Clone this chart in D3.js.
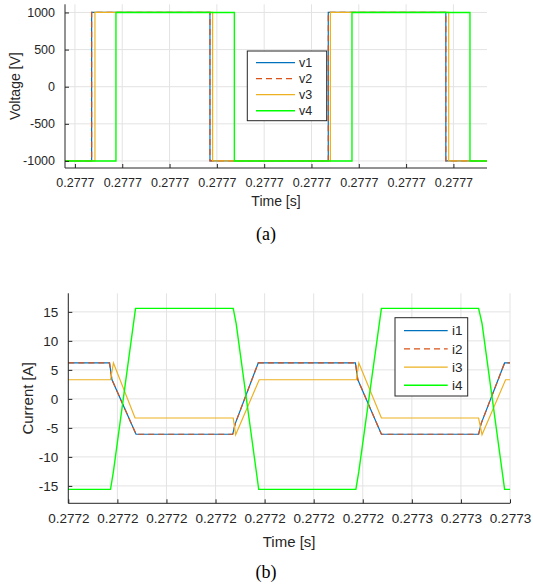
<!DOCTYPE html>
<html>
<head>
<meta charset="utf-8">
<script src="https://cdn.jsdelivr.net/npm/d3@7"></script>
<style>
  body { margin: 0; background: #fff; }
  text { font-family: "Liberation Sans", Arial, sans-serif; fill: #262626; }
</style>
</head>
<body>
<div id="canvas"></div>
<script>
// time is measured in tick intervals from the first labelled tick

// (a) voltages
const vTicks = [0, 1, 2, 3, 4, 5, 6, 7, 8];
const vTickLabels = ["0.2777", "0.2777", "0.2777", "0.2777", "0.2777", "0.2777", "0.2777", "0.2777", "0.2777"];
const vYTicks = [-1000, -500, 0, 500, 1000];
const v1T = [-0.21, 0.353, 0.353, 2.854, 2.854, 5.355, 5.355, 7.84, 7.84, 8.71];
const v1V = [-1000, -1000, 1000, 1000, -1000, -1000, 1000, 1000, -1000, -1000];
const v2T = [-0.21, 0.353, 0.353, 2.854, 2.854, 5.355, 5.355, 7.84, 7.84, 8.71];
const v2V = [-1000, -1000, 1000, 1000, -1000, -1000, 1000, 1000, -1000, -1000];
const v3T = [-0.21, 0.423, 0.423, 2.91, 2.91, 5.40, 5.40, 7.90, 7.90, 8.71];
const v3V = [-1000, -1000, 1000, 1000, -1000, -1000, 1000, 1000, -1000, -1000];
const v4T = [-0.21, 0.867, 0.867, 3.37, 3.37, 5.856, 5.856, 8.35, 8.35, 8.71];
const v4V = [-1000, -1000, 1000, 1000, -1000, -1000, 1000, 1000, -1000, -1000];

// (b) currents
const iTicks = [0, 1, 2, 3, 4, 5, 6, 7, 8, 9];
const iTickLabels = ["0.2772", "0.2772", "0.2772", "0.2772", "0.2772", "0.2772", "0.2772", "0.2773", "0.2773", "0.2773"];
const iYTicks = [-15, -10, -5, 0, 5, 10, 15];
const i1T = [0, 0.84, 0.89, 1.38, 3.35, 3.40, 3.87, 5.85, 5.90, 6.38, 8.36, 8.41, 8.89, 9];
const i1V = [6.2, 6.2, 3.3, -6.1, -6.1, -4.3, 6.2, 6.2, 3.3, -6.1, -6.1, -4.3, 6.2, 6.2];
const i2T = [0, 0.84, 0.89, 1.38, 3.35, 3.40, 3.87, 5.85, 5.90, 6.38, 8.36, 8.41, 8.89, 9];
const i2V = [6.2, 6.2, 3.3, -6.1, -6.1, -4.3, 6.2, 6.2, 3.3, -6.1, -6.1, -4.3, 6.2, 6.2];
const i3T = [0, 0.86, 0.92, 1.36, 3.36, 3.41, 3.89, 5.87, 5.92, 6.38, 8.36, 8.43, 8.91, 9];
const i3V = [3.3, 3.3, 6.2, -3.3, -3.3, -6.2, 3.3, 3.3, 6.2, -3.3, -3.3, -6.2, 3.3, 3.3];
const i4T = [0, 0.86, 0.92, 1.37, 3.36, 3.42, 3.88, 5.86, 5.92, 6.38, 8.36, 8.43, 8.89, 9];
const i4V = [-15.6, -15.6, -12.5, 15.6, 15.6, 13.0, -15.6, -15.6, -12.5, 15.6, 15.6, 13.0, -15.6, -15.6];

const colors = ["#0072BD", "#D95319", "#EDB120", "#00FF00"];

const svg = d3.select("#canvas").append("svg")
    .attr("width", 533).attr("height", 587);

function drawPanel(p) {
    const x = d3.scaleLinear().domain(p.xDomain).range([p.left, p.right]);
    const y = d3.scaleLinear().domain(p.yDomain).range([p.bottom, p.top]);
    const g = svg.append("g");

    // grid
    g.append("g").selectAll("line").data(p.xTicks).join("line")
        .attr("x1", d => x(d)).attr("x2", d => x(d))
        .attr("y1", p.top).attr("y2", p.bottom)
        .attr("stroke", "#e3e3e3");
    g.append("g").selectAll("line").data(p.yTicks).join("line")
        .attr("x1", p.left).attr("x2", p.right)
        .attr("y1", d => y(d)).attr("y2", d => y(d))
        .attr("stroke", "#e3e3e3");

    // series
    const line = d3.line().x(d => x(d[0])).y(d => y(d[1]));
    p.series.forEach((s, k) => {
        g.append("path")
            .datum(s.t.map((t, j) => [t, s.v[j]]))
            .attr("d", line)
            .attr("fill", "none")
            .attr("stroke", colors[k])
            .attr("stroke-width", k === 3 ? 1.4 : 1.2)
            .attr("stroke-dasharray", k === 1 ? "6,4" : null);
    });

    // axes (inward ticks, no box)
    const xAxis = d3.axisBottom(x).tickValues(p.xTicks)
        .tickFormat((d, i) => p.xLabels[i]).tickSizeInner(-4).tickSizeOuter(0).tickPadding(10);
    const yAxis = d3.axisLeft(y).tickValues(p.yTicks)
        .tickFormat(d => String(d)).tickSizeInner(-4).tickSizeOuter(0).tickPadding(10);
    const ax = g.append("g").attr("transform", `translate(0,${p.bottom})`).call(xAxis);
    const ay = g.append("g").attr("transform", `translate(${p.left},0)`).call(yAxis);
    [ax, ay].forEach(a => {
        a.select(".domain").attr("stroke", "#262626");
        a.selectAll(".tick line").attr("stroke", "#262626");
        a.selectAll("text").attr("font-size", p.tickFont)
            .attr("font-family", "Liberation Sans, Arial, sans-serif").attr("fill", "#262626");
    });
    ax.select(".domain").attr("d", `M${p.left},0H${p.right}`);
    ay.select(".domain").attr("d", `M0,${p.top}V${p.bottom}`);

    // labels
    g.append("text").attr("x", (p.left + p.right) / 2).attr("y", p.xLabelY)
        .attr("text-anchor", "middle").attr("font-size", p.labelFont).text("Time [s]");
    g.append("text")
        .attr("transform", `translate(${p.yLabelX},${(p.top + p.bottom) / 2}) rotate(-90)`)
        .attr("text-anchor", "middle").attr("font-size", p.labelFont).text(p.yLabel);
    svg.append("text").attr("x", 266).attr("y", p.captionY)
        .attr("text-anchor", "middle").attr("font-size", 18)
        .style("font-family", "Liberation Serif, Times New Roman, serif")
        .style("fill", "#000").text(p.caption);

    // legend
    const L = p.legend;
    const lg = g.append("g");
    lg.append("rect").attr("x", L.x0).attr("y", L.y0)
        .attr("width", L.x1 - L.x0).attr("height", L.y1 - L.y0)
        .attr("fill", "#fff").attr("stroke", "#262626").attr("stroke-width", 1);
    p.names.forEach((n, k) => {
        const yy = L.rowY + k * L.rowStep;
        lg.append("line").attr("x1", L.lx0).attr("x2", L.lx1).attr("y1", yy).attr("y2", yy)
            .attr("stroke", colors[k]).attr("stroke-width", k === 3 ? 1.4 : 1.2)
            .attr("stroke-dasharray", k === 1 ? "6,4" : null);
        lg.append("text").attr("x", L.tx).attr("y", yy).attr("dy", "0.35em")
            .attr("font-size", p.legendFont).text(n);
    });
}

drawPanel({
    left: 65, right: 487, top: 4.3, bottom: 168,
    xDomain: [-0.21, 8.71], yDomain: [-1095, 1110],
    xTicks: vTicks, xLabels: vTickLabels, yTicks: vYTicks,
    series: [{t: v1T, v: v1V}, {t: v2T, v: v2V}, {t: v3T, v: v3V}, {t: v4T, v: v4V}],
    names: ["v1", "v2", "v3", "v4"],
    yLabel: "Voltage [V]", yLabelX: 20, xLabelY: 206,
    caption: "(a)", captionY: 240,
    tickFont: 12.5, labelFont: 14, legendFont: 12.5,
    legend: {x0: 247.3, x1: 326.7, y0: 51, y1: 120.7, rowY: 62.7, rowStep: 16, lx0: 256, lx1: 295, tx: 299}
});

drawPanel({
    left: 68.3, right: 510, top: 293.3, bottom: 503.3,
    xDomain: [0, 9], yDomain: [-18, 18.2],
    xTicks: iTicks, xLabels: iTickLabels, yTicks: iYTicks,
    series: [{t: i1T, v: i1V}, {t: i2T, v: i2V}, {t: i3T, v: i3V}, {t: i4T, v: i4V}],
    names: ["i1", "i2", "i3", "i4"],
    yLabel: "Current [A]", yLabelX: 33, xLabelY: 547,
    caption: "(b)", captionY: 578,
    tickFont: 13.5, labelFont: 15, legendFont: 13.5,
    legend: {x0: 395, x1: 467.7, y0: 317.7, y1: 396, rowY: 330.7, rowStep: 18.2, lx0: 404, lx1: 447.7, tx: 452}
});
</script>
</body>
</html>
